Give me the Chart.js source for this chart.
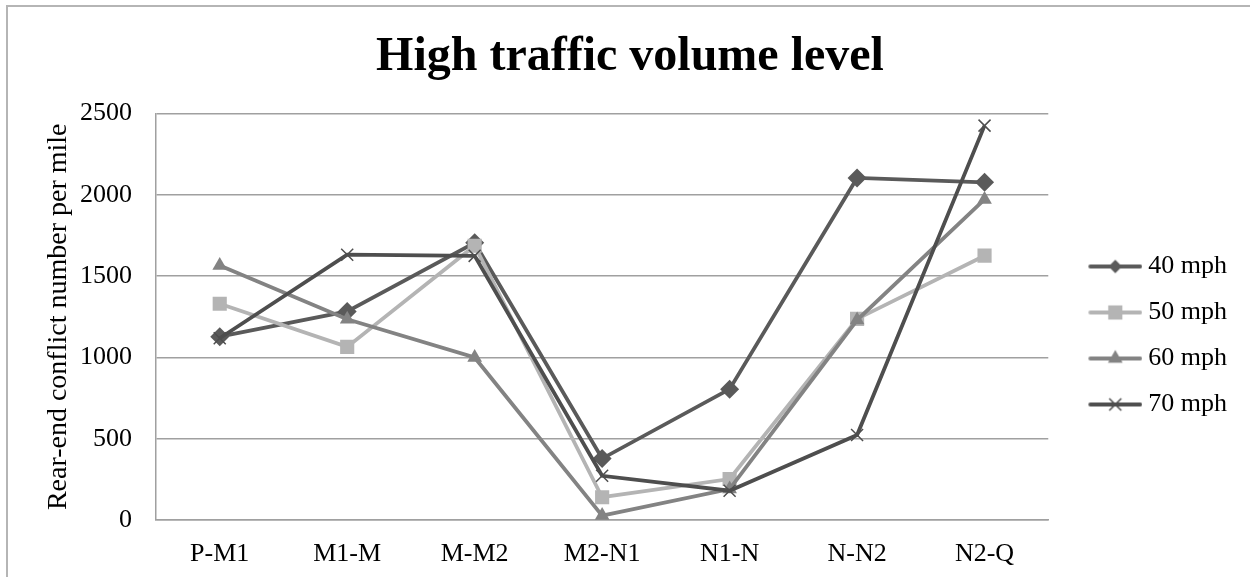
<!DOCTYPE html>
<html>
<head>
<meta charset="utf-8">
<script src="https://cdn.jsdelivr.net/npm/chart.js@4.4.1/dist/chart.umd.min.js"></script>
<style>
html, body { margin: 0; padding: 0; background: #fff; overflow: hidden; }
#frame { position: absolute; left: 6px; top: 5px; width: 1270px; height: 620px; border: 2px solid #b5b5b5; }
#wrap { position: absolute; left: 0; top: 0; width: 1250px; height: 577px; }
</style>
</head>
<body>
<div id="frame"></div>
<div id="wrap"><canvas id="chart" width="1250" height="577"></canvas></div>
<script>
// segments along the road
const categories = ['P-M1', 'M1-M', 'M-M2', 'M2-N1', 'N1-N', 'N-N2', 'N2-Q'];
const seriesLabels = ['40 mph', '50 mph', '60 mph', '70 mph'];

// rear-end conflicts per mile
const mph40 = [1128, 1283, 1705, 378, 805, 2104, 2077];
const mph50 = [1330, 1065, 1687, 140, 252, 1237, 1626];
const mph60 = [1565, 1235, 1000, 27, 190, 1230, 1972];
const mph70 = [1118, 1632, 1625, 272, 180, 523, 2426];

const yMin = 0;
const yMax = 2500;
const yStep = 500;

const colors = ['#5a5a5a', '#b4b4b4', '#838383', '#4e4e4e'];
const markers = ['rectRot', 'rect', 'triangle', 'crossRot'];
const markerSize = [9.5, 10, 8.5, 8.5];
const fontName = "'Liberation Serif', 'Times New Roman', serif";

// small line+marker picture for each legend entry
function makeIcon(style, color, size)
{
    const c = document.createElement('canvas');
    c.width = 81;
    c.height = 24;
    const ctx = c.getContext('2d');
    const cy = 12;
    const cx = 54;
    ctx.strokeStyle = color;
    ctx.fillStyle = color;
    ctx.lineWidth = 3.8;
    ctx.lineCap = 'round';
    ctx.beginPath();
    ctx.moveTo(29, cy);
    ctx.lineTo(79, cy);
    ctx.stroke();

    ctx.beginPath();
    if (style === 'rectRot')
    {
        const s = size * Math.SQRT1_2;
        ctx.moveTo(cx - s, cy);
        ctx.lineTo(cx, cy - s);
        ctx.lineTo(cx + s, cy);
        ctx.lineTo(cx, cy + s);
        ctx.closePath();
        ctx.fill();
    }
    else if (style === 'rect')
    {
        const s = size * Math.SQRT1_2;
        ctx.fillRect(cx - s, cy - s, 2 * s, 2 * s);
    }
    else if (style === 'triangle')
    {
        ctx.moveTo(cx, cy - size);
        ctx.lineTo(cx + size * 0.866, cy + size / 2);
        ctx.lineTo(cx - size * 0.866, cy + size / 2);
        ctx.closePath();
        ctx.fill();
    }
    else
    {
        const s = size * Math.SQRT1_2;
        ctx.lineWidth = 1.5;
        ctx.lineCap = 'butt';
        ctx.moveTo(cx - s, cy - s);
        ctx.lineTo(cx + s, cy + s);
        ctx.moveTo(cx + s, cy - s);
        ctx.lineTo(cx - s, cy + s);
        ctx.stroke();
    }
    return c;
}

const values = [mph40, mph50, mph60, mph70];
const icons = seriesLabels.map((_, i) => makeIcon(markers[i], colors[i], markerSize[i]));

const datasets = seriesLabels.map((label, i) => ({
    label: label,
    data: values[i],
    borderColor: colors[i],
    backgroundColor: colors[i],
    borderWidth: 3.8,
    tension: 0,
    pointStyle: markers[i],
    pointRadius: markerSize[i],
    pointHoverRadius: markerSize[i],
    pointBackgroundColor: colors[i],
    pointBorderColor: colors[i],
    pointBorderWidth: markers[i] === 'crossRot' ? 1.5 : 0,
    order: 4 - i
}));

new Chart(document.getElementById('chart'), {
    type: 'line',
    data: {
        labels: categories,
        datasets: datasets
    },
    options: {
        responsive: false,
        animation: false,
        devicePixelRatio: 1,
        layout: {
            padding: { left: 23, right: 13, top: 0, bottom: 0 }
        },
        plugins: {
            title: {
                display: true,
                text: 'High traffic volume level',
                color: '#000',
                font: { family: fontName, size: 48, weight: 'bold' },
                padding: { top: 29, bottom: 27 }
            },
            legend: {
                position: 'right',
                title: {
                    display: true,
                    text: '',
                    font: { size: 10 },
                    padding: { top: 82, bottom: 0 }
                },
                labels: {
                    usePointStyle: true,
                    pointStyleWidth: 67,
                    color: '#000',
                    padding: 20,
                    font: { family: fontName, size: 26 },
                    generateLabels: (chart) => chart.data.datasets.map((ds, i) => ({
                        text: ds.label,
                        datasetIndex: i,
                        pointStyle: icons[i],
                        fillStyle: ds.borderColor,
                        strokeStyle: ds.borderColor,
                        lineWidth: 0,
                        hidden: false,
                        fontColor: '#000'
                    }))
                }
            },
            tooltip: { enabled: false }
        },
        scales: {
            x: {
                offset: true,
                grid: { display: false, offset: true },
                border: { display: true, color: '#a0a0a0', width: 1.5 },
                ticks: {
                    color: '#000',
                    padding: 11,
                    font: { family: fontName, size: 26 }
                },
                afterFit: (scale) => { scale.height = 57; }
            },
            y: {
                min: yMin,
                max: yMax,
                ticks: {
                    stepSize: yStep,
                    color: '#000',
                    padding: 24,
                    font: { family: fontName, size: 26 },
                    callback: (v) => String(v)
                },
                grid: { color: '#a0a0a0', lineWidth: 1.5, drawTicks: false },
                border: { display: true, color: '#a0a0a0', width: 1.5 },
                title: {
                    display: true,
                    text: 'Rear-end conflict number per mile',
                    color: '#000',
                    font: { family: fontName, size: 28 },
                    padding: { top: 19, bottom: 0 }
                },
                afterFit: (scale) => { scale.width = 133; }
            }
        }
    }
});
</script>
</body>
</html>
